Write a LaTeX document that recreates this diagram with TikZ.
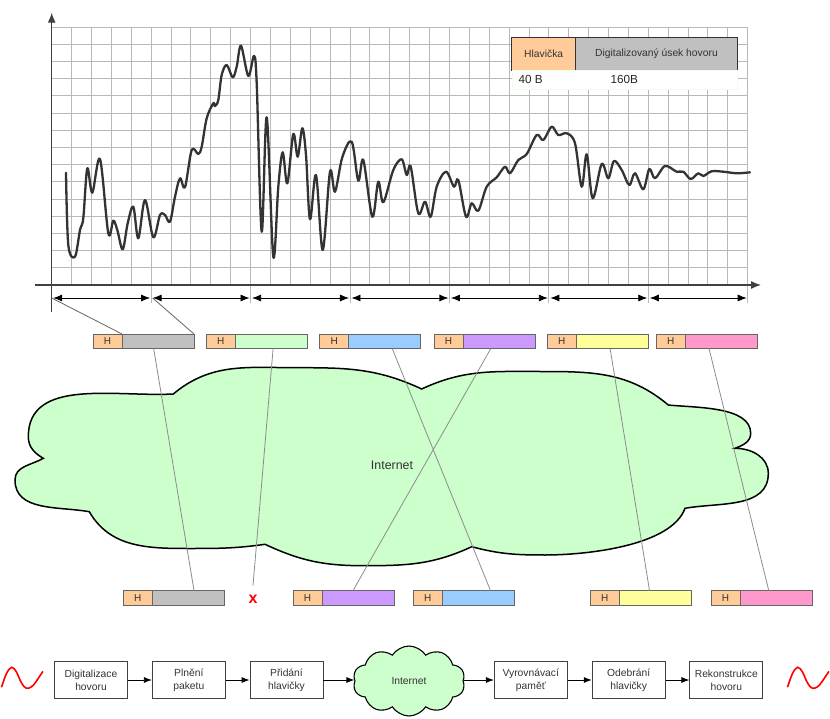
\documentclass[tikz,border=0pt]{standalone}
\usepackage{fontspec}
\setmainfont{Liberation Sans}
\usetikzlibrary{arrows.meta,shapes.symbols,calc}
\definecolor{porange}{HTML}{FFCC99}
\definecolor{pgray}{HTML}{C0C0C0}
\definecolor{pgreen}{HTML}{CCFFCC}
\definecolor{pblue}{HTML}{99CCFF}
\definecolor{ppurple}{HTML}{CC99FF}
\definecolor{pyellow}{HTML}{FFFF99}
\definecolor{ppink}{HTML}{FF99CC}
\definecolor{ctext}{HTML}{333333}
\definecolor{gridcol}{HTML}{B8B8B8}
\definecolor{axiscol}{HTML}{404040}
\newcommand\mypkt[4]{%
  \node[hbox, anchor=north west] (#1h) at (#2,-#3) {H};
  \node[dbox, fill=#4, anchor=west] (#1d) at (#1h.east) {};}
\begin{document}
\begin{tikzpicture}[x=1pt,y=1pt,
  gridc/.style={draw=gridcol, line width=0.9pt},
  axisst/.style={draw=axiscol, line width=1.2pt, -{Latex[length=10pt,width=8pt]}},
  darr/.style={draw=black, line width=0.8pt, {Latex[length=9pt,width=7pt]}-{Latex[length=9pt,width=7pt]}},
  wavef/.style={draw=black!80, line width=2.3pt, line join=round, line cap=round},
  f10/.style={font=\fontsize{10.3}{13}\selectfont, text=ctext},
  hbox/.style={draw=black!60, line width=0.8pt, fill=porange, minimum width=29pt, minimum height=14.7pt, inner sep=0pt, outer sep=0pt, font=\fontsize{10}{12}\selectfont, text=ctext},
  dbox/.style={draw=black!60, line width=0.8pt, minimum width=72pt, minimum height=14.7pt, inner sep=0pt, outer sep=0pt},
  conn/.style={draw=black!45, line width=0.8pt},
  fbox/.style={draw=black!75, line width=0.8pt, minimum width=73pt, minimum height=36.6pt, align=center, inner sep=0pt, f10},
  farr/.style={draw=black, line width=0.8pt, -{Latex[length=8pt,width=6pt]}},
  redwave/.style={draw=red, line width=1.6pt, line cap=round},
  cloudst/.style={draw=black, line width=1.5pt, fill=pgreen}
]
\useasboundingbox (0,0) rectangle (830,-719);

% grid
\foreach \i in {0,...,35} \draw[gridc] ({51.7+\i*19.886},-27) -- ({51.7+\i*19.886},-285);
\foreach \j in {0,...,14} \draw[gridc] (51.7,{-27-\j*17.2}) -- (748,{-27-\j*17.2});
\foreach \k in {1,...,7} \draw[gridc] ({51.7+\k*99.43},-285) -- ({51.7+\k*99.43},-303);

% legend
\node[draw=black!80, line width=0.8pt, fill=porange, minimum width=64pt, minimum height=32.3pt, anchor=north west, inner sep=0pt, outer sep=0pt, f10] (lh) at (511.7,-37.7) {Hlavička};
\node[draw=black!80, line width=0.8pt, fill=pgray, minimum width=161.6pt, minimum height=32.3pt, anchor=west, inner sep=0pt, outer sep=0pt, f10] (ld) at (lh.east) {Digitalizovaný úsek hovoru};
\node[draw=green!8, fill=white, anchor=north west, minimum width=225.6pt, minimum height=19.3pt, inner sep=0pt, outer sep=0pt] (lb) at (lh.south west) {};
\node[font=\fontsize{11.7}{14}\selectfont, text=black!85, anchor=west, inner sep=0pt] (l40) at (518.5,-79.5) {40 B};
\node[font=\fontsize{11.7}{14}\selectfont, text=black!85, anchor=west, inner sep=0pt] (l160) at (610.5,-79.5) {160B};

% waveform
\draw[wavef] plot[smooth, tension=0.55] coordinates {
(66,-172.7) (68.3,-245) (75,-256.7) (80,-230) (83.3,-218) (87.3,-168.3) (92.3,-192.7) (100,-159) (108.3,-233.3) (113.3,-220.7) (117.3,-230) (122.7,-249.3) (127.7,-223.3) (133.3,-206.7) (138.3,-238.3) (145,-200) (153.3,-237.3) (160,-215) (165,-215) (170,-221.7) (175,-196.7) (180,-178.3) (185,-187.3) (191.7,-150) (198.3,-154) (201.7,-146.7) (206.7,-118.3) (213.3,-103.3) (215,-106) (218.3,-100) (221.7,-75) (226.7,-65) (232.7,-77.3) (236.7,-66.7) (241,-45.7) (248.3,-76) (254,-56) (256.7,-83.3) (261.7,-231.7) (266.7,-117.3) (273.3,-256.7) (278.3,-186.7) (282.7,-152.3) (287.3,-183.3) (293.3,-134) (297.7,-156.7) (302.3,-128.3) (306,-155) (310,-219.3) (316,-175) (322.7,-250) (330,-171.7) (335,-191.7) (342.3,-157.3) (351.7,-141.7) (358.3,-180.7) (363.3,-160) (372.3,-216.7) (378.3,-181.7) (383.3,-202.3) (393.3,-170) (401.7,-159.3) (406.7,-175) (410.7,-166.7) (418.3,-213.3) (425,-201.7) (430.7,-216.7) (436.7,-186.7) (446,-171.7) (454,-186.7) (458.3,-180) (466,-216.7) (471.7,-203.3) (478.3,-210.7) (486.7,-186.7) (496.7,-177.3) (505,-166.7) (510,-173.3) (518.3,-160) (526.7,-154) (536.7,-135) (543.3,-140) (551.7,-126.7) (558.3,-135) (566.7,-133.3) (575,-143.3) (581.7,-186.7) (586.7,-154.3) (592.7,-198.3) (601.7,-164) (608.3,-178.3) (614,-161) (621.7,-170) (629.3,-185) (635,-173.3) (643.3,-189.3) (649.3,-169) (655,-178.3) (665,-166) (676.7,-171.7) (683.3,-171.7) (690.7,-179) (698.3,-173.3) (703.3,-176) (711.7,-171.3) (723.3,-171.7) (736.7,-173.3) (750,-172.3)};

% axes
\draw[axisst] (35,-285) -- (761,-285);
\draw[axisst] (51.7,-311.7) -- (51.7,-12.7);

% time segments
\foreach \k in {0,...,7} \coordinate (b\k) at ({51.7+\k*99.43},-298);
\foreach \k/\n in {0/1,1/2,2/3,3/4,4/5,5/6,6/7} \draw[darr] ([xshift=1.5pt]b\k) -- ([xshift=-1pt]b\n);

% big cloud
\draw[cloudst] (43.3,-458.3)
 to[out=150,in=-90] (28.3,-436.7)
 to[out=90,in=183] (173.3,-394)
 to[out=40,in=180] (296.7,-367.7)
 to[out=0,in=155] (421.7,-389)
 to[out=25,in=180] (540,-371.5)
 to[out=0,in=140] (668.3,-405)
 to[out=-6,in=90,looseness=0.8] (750.7,-433.3)
 to[out=-90,in=20] (735,-448.3)
 to[out=0,in=90] (768.3,-473.3)
 to[out=-90,in=10] (685,-508.3)
 to[out=-110,in=0,looseness=0.7] (545,-555)
 to[out=180,in=-15] (471.7,-546.7)
 to[out=-155,in=0] (363.3,-565.7)
 to[out=180,in=-25] (265,-544.3)
 to[out=188,in=0] (190,-548.5)
 to[out=180,in=-60] (89.3,-511.7)
 to[out=170,in=-90] (15,-480)
 to[out=90,in=210] (43.3,-458.3) -- cycle;
\node[font=\fontsize{12.4}{14}\selectfont, text=ctext] (inet) at (392,-465.7) {Internet};

% packets top
\mypkt{ta}{93}{334}{pgray}
\mypkt{tb}{206.3}{334}{pgreen}
\mypkt{tc}{319.7}{334}{pblue}
\mypkt{td}{434}{334}{ppurple}
\mypkt{te}{547.3}{334}{pyellow}
\mypkt{tf}{656.3}{334}{ppink}
% packets bottom
\mypkt{ba}{123.3}{590.7}{pgray}
\mypkt{bb}{293}{590.7}{ppurple}
\mypkt{bc}{413.3}{590.7}{pblue}
\mypkt{bd}{590.3}{590.7}{pyellow}
\mypkt{be}{711}{590.7}{ppink}
\node[text=red, font=\fontsize{16}{16}\bfseries\selectfont, inner sep=1pt] (xx) at (253,-599) {x};

% sampling lines to first packet
\draw[draw=black!60, line width=0.8pt] (b0) -- (tad.north west);
\draw[draw=black!60, line width=0.8pt] ([xshift=1.5pt]b1) -- (tad.north east);

% connectors through internet
\draw[conn] ($(tad.south west)!0.44!(tad.south east)$) -- ($(bad.north west)!0.58!(bad.north east)$);
\draw[conn] ($(tbd.south west)!0.525!(tbd.south east)$) -- ([yshift=8pt]xx.north);
\draw[conn] ($(tcd.south west)!0.605!(tcd.south east)$) -- ($(bcd.north west)!0.67!(bcd.north east)$);
\draw[conn] ($(tdd.south west)!0.385!(tdd.south east)$) -- ($(bbd.north west)!0.43!(bbd.north east)$);
\draw[conn] ($(ted.south west)!0.47!(ted.south east)$) -- ($(bdd.north west)!0.42!(bdd.north east)$);
\draw[conn] ($(tfd.south west)!0.33!(tfd.south east)$) -- ($(bed.north west)!0.40!(bed.north east)$);

% flow row
\node[fbox] (f1) at (91,-680) {Digitalizace\\hovoru};
\node[fbox] (f2) at (188.8,-680) {Plnění\\paketu};
\node[fbox] (f3) at (286.5,-680) {Přidání\\hlavičky};
\node[shape=cloud, cloud puffs=10, cloud puff arc=115, aspect=1.6, draw=black, line width=1.1pt, fill=pgreen, minimum width=112pt, minimum height=70pt, inner sep=0pt, f10] (fc) at (409,-681) {Internet};
\node[fbox] (f4) at (530.8,-680) {Vyrovnávací\\paměť};
\node[fbox] (f5) at (628.7,-680) {Odebrání\\hlavičky};
\node[fbox] (f6) at (726.3,-680) {Rekonstrukce\\hovoru};
\draw[farr] (f1) -- (f2);
\draw[farr] (f2) -- (f3);
\draw[farr] (f3.east) -- (fc.west |- f3.east);
\draw[farr] (fc.east |- f4.west) -- (f4.west);
\draw[farr] (f4) -- (f5);
\draw[farr] (f5) -- (f6);

% red waves
\draw[redwave] plot[smooth, tension=0.6] coordinates {(1.7,-686.7) (6.5,-673.5) (11.7,-667.3) (16.5,-672) (20,-680) (24,-686.5) (28.3,-688.3) (33.5,-685) (38.5,-678) (42.7,-671.7)};
\draw[redwave] plot[smooth, tension=0.6] coordinates {(787.7,-686.7) (792.5,-673.5) (797.7,-667.3) (802.5,-672) (806,-680) (810,-686.5) (814.3,-688.3) (819.5,-685) (824.5,-678) (828.7,-671.7)};
\end{tikzpicture}
\end{document}
